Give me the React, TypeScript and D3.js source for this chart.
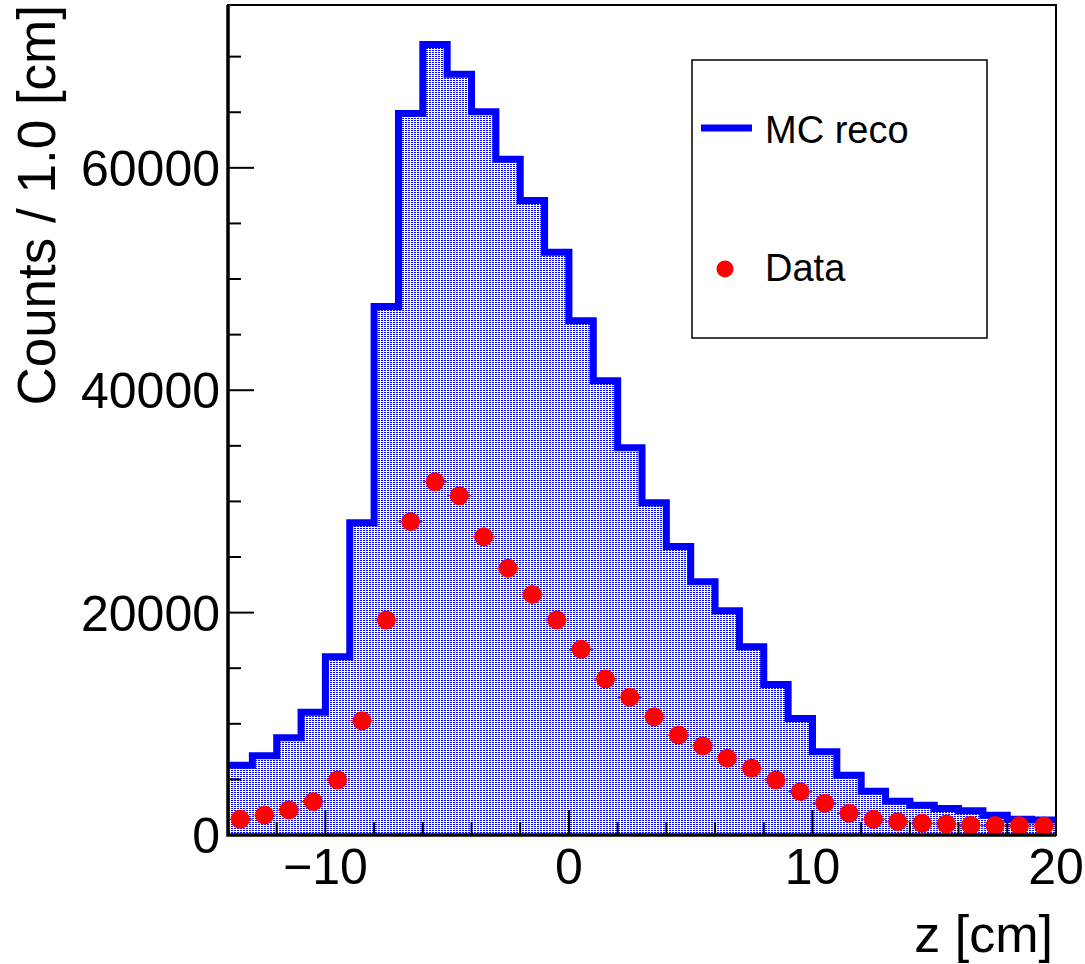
import { useEffect, useRef } from "react";
import * as d3 from "d3";

// bin edges run from -14 to 20 cm, 1 cm wide
const binLow = d3.range(-14, 20);
const mcReco = [
  6280, 7120, 8740, 11040, 16030, 28080, 47530, 64880, 71090, 68420,
  65040, 60770, 57060, 52410, 46240, 40850, 34820, 29870, 25940, 22770,
  20160, 16920, 13530, 10480, 7480, 5380, 3940, 3040, 2680, 2380,
  2180, 1780, 1420, 1350,
];
const dataCounts = [
  1410, 1800, 2250, 3000, 4950, 10280, 19330, 28180, 31770, 30510,
  26830, 23980, 21640, 19330, 16700, 14030, 12380, 10640, 8990, 8000,
  6900, 6000, 4950, 3900, 2850, 1950, 1410, 1200, 1050, 990,
  880, 850, 830, 800,
];
const xTicks = [-10, 0, 10, 20];
const yTicks = [0, 20000, 40000, 60000];
const legendLabels = ["MC reco", "Data"];

const W = 1085, H = 964;
const FONT = "'Liberation Sans', Arial, Helvetica, sans-serif";

export default function App() {
  const svgRef = useRef<SVGSVGElement>(null);

  useEffect(() => {
    const svg = d3.select(svgRef.current);
    svg.selectAll("*").remove();

    const left = 228, right = 1056, top = 5, bottom = 835;
    const x = d3.scaleLinear().domain([-14, 20]).range([left, right]);
    const yMax = (d3.max(mcReco) as number) * 1.05;
    const y = d3.scaleLinear().domain([0, yMax]).range([bottom, top]);

    const defs = svg.append("defs");
    const pat = defs.append("pattern")
      .attr("id", "dots")
      .attr("patternUnits", "userSpaceOnUse")
      .attr("width", 3)
      .attr("height", 2);
    pat.append("rect").attr("width", 3).attr("height", 2).attr("fill", "white");
    pat.append("rect").attr("width", 2).attr("height", 1).attr("fill", "#0000ff");

    defs.append("clipPath").attr("id", "plotclip")
      .append("rect")
      .attr("x", left).attr("y", top)
      .attr("width", right - left).attr("height", bottom - top);

    const steps = binLow.map((b, i) => ({ x: b, v: mcReco[i] }));
    steps.push({ x: 20, v: mcReco[mcReco.length - 1] });

    const plot = svg.append("g").attr("clip-path", "url(#plotclip)");

    plot.append("path")
      .datum(steps)
      .attr("d", d3.area<{ x: number; v: number }>()
        .curve(d3.curveStepAfter)
        .x(d => x(d.x))
        .y0(y(0))
        .y1(d => y(d.v)))
      .attr("fill", "url(#dots)");

    plot.append("path")
      .datum(steps)
      .attr("d", d3.line<{ x: number; v: number }>()
        .curve(d3.curveStepAfter)
        .x(d => x(d.x))
        .y(d => y(d.v)))
      .attr("fill", "none")
      .attr("stroke", "#0000ff")
      .attr("stroke-width", 7);

    const pts = binLow.map((b, i) => ({ c: b + 0.5, v: dataCounts[i] }));

    // horizontal error bars (half bin width)
    plot.append("g")
      .selectAll("line")
      .data(pts)
      .join("line")
        .attr("x1", d => x(d.c - 0.5))
        .attr("x2", d => x(d.c + 0.5))
        .attr("y1", d => y(d.v))
        .attr("y2", d => y(d.v))
        .attr("stroke", "#ff0000")
        .attr("stroke-width", 1);

    plot.append("g")
      .selectAll("circle")
      .data(pts)
      .join("circle")
        .attr("cx", d => x(d.c))
        .attr("cy", d => y(d.v))
        .attr("r", 9.5)
        .attr("fill", "#ff0000");

    // ticks
    const tickG = svg.append("g").attr("stroke", "black").attr("stroke-width", 2);
    d3.range(0, yMax, 5000).forEach(v => {
      const len = v % 20000 === 0 ? 26 : 13;
      tickG.append("line")
        .attr("x1", left).attr("x2", left + len)
        .attr("y1", y(v)).attr("y2", y(v));
    });
    d3.range(-14, 20.01, 2).forEach(v => {
      const len = v % 10 === 0 ? 25 : 13;
      tickG.append("line")
        .attr("x1", x(v)).attr("x2", x(v))
        .attr("y1", bottom).attr("y2", bottom - len);
    });

    // frame
    svg.append("rect")
      .attr("x", left).attr("y", top)
      .attr("width", right - left).attr("height", bottom - top)
      .attr("fill", "none")
      .attr("stroke", "black")
      .attr("stroke-width", 2);
    svg.append("path")
      .attr("d", `M${left},${top}V${bottom}H${right}`)
      .attr("fill", "none")
      .attr("stroke", "black")
      .attr("stroke-width", 3.5);

    const fmt = d3.format("d");

    // tick labels
    svg.append("g")
      .selectAll("text")
      .data(yTicks)
      .join("text")
        .attr("x", left - 8)
        .attr("y", d => y(d) + 18)
        .attr("text-anchor", "end")
        .style("font-family", FONT)
        .style("font-size", "50px")
        .text(d => fmt(d));

    svg.append("g")
      .selectAll("text")
      .data(xTicks)
      .join("text")
        .attr("x", d => x(d))
        .attr("y", 884)
        .attr("text-anchor", "middle")
        .style("font-family", FONT)
        .style("font-size", "50px")
        .text(d => fmt(d));

    // axis titles
    svg.append("text")
      .attr("x", 1053)
      .attr("y", 952)
      .attr("text-anchor", "end")
      .style("font-family", FONT)
      .style("font-size", "52px")
      .text("z [cm]");

    svg.append("text")
      .attr("transform", "translate(55,5) rotate(-90)")
      .attr("text-anchor", "end")
      .style("font-family", FONT)
      .style("font-size", "53px")
      .text("Counts / 1.0 [cm]");

    // legend
    const lg = svg.append("g");
    lg.append("rect")
      .attr("x", 692).attr("y", 60)
      .attr("width", 295).attr("height", 278)
      .attr("fill", "white")
      .attr("stroke", "black")
      .attr("stroke-width", 1.5);
    lg.append("line")
      .attr("x1", 701).attr("x2", 752)
      .attr("y1", 128).attr("y2", 128)
      .attr("stroke", "#0000ff")
      .attr("stroke-width", 7);
    lg.append("circle")
      .attr("cx", 725).attr("cy", 269)
      .attr("r", 8.5)
      .attr("fill", "#ff0000");
    lg.selectAll("text.leg")
      .data(legendLabels)
      .join("text")
        .attr("class", "leg")
        .attr("x", 765)
        .attr("y", (d, i) => [143, 281][i])
        .style("font-family", FONT)
        .style("font-size", "38px")
        .text(d => d);
  }, []);

  return (
    <svg
      ref={svgRef}
      width={W}
      height={H}
      style={{ position: "absolute", left: 0, top: 0, background: "white" }}
    />
  );
}
